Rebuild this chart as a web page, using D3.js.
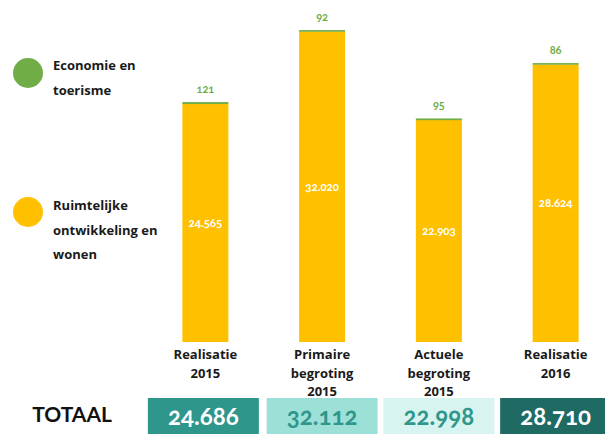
<!DOCTYPE html>
<html><head><meta charset="utf-8">
<script src="https://cdn.jsdelivr.net/npm/d3@7"></script>
<style>
html,body{margin:0;padding:0;background:#fff;}
svg{display:block;font-family:Lato,"Open Sans",sans-serif;}
</style></head>
<body>
<svg id="c" width="605" height="434"></svg>
<script>
const categories = [["Realisatie","2015"],["Primaire","begroting","2015"],["Actuele","begroting","2015"],["Realisatie","2016"]];
const ruimtelijk = [24565, 32020, 22903, 28624];
const economie = [121, 92, 95, 86];
const totals = ["24.686","32.112","22.998","28.710"];
const ruimtelijkLabels = ["24.565","32.020","22.903","28.624"];
const economieLabels = ["121","92","95","86"];
const legendItems = [["Economie en","toerisme"],["Ruimtelijke","ontwikkeling en","wonen"]];

const green = "#70ad47", yellow = "#ffc000";
const boxFill = ["#2e968a","#9de0d8","#d7f4f0","#1f6b63"];
const boxText = ["#ffffff","#2e968a","#2e968a","#ffffff"];
const labelFont = "'Open Sans',Lato,sans-serif";

const svg = d3.select("#c");
const x = d3.scaleBand().domain(d3.range(4)).range([147, 614]).paddingInner(0.6).paddingOuter(0.3);
const y = d3.scaleLinear().domain([0, 35000]).range([342, 2.7]);
const bw = 46;
const cx = i => x(i) + x.bandwidth()/2;

// bars
const g = svg.append("g");
g.selectAll("rect.y").data(ruimtelijk).join("rect")
  .attr("x", (d,i)=>cx(i)-bw/2).attr("width", bw)
  .attr("y", d=>y(d)).attr("height", d=>y(0)-y(d)).attr("fill", yellow);
g.selectAll("rect.g").data(economie).join("rect")
  .attr("x", (d,i)=>cx(i)-bw/2).attr("width", bw)
  .attr("y", (d,i)=>y(ruimtelijk[i]+d)-0.6).attr("height", (d,i)=>y(ruimtelijk[i])-y(ruimtelijk[i]+d)+0.8)
  .attr("fill", green);

// labels inside bars
g.selectAll("text.in").data(ruimtelijk).join("text")
  .attr("x", (d,i)=>cx(i)).attr("y", d=>(y(d)+y(0))/2+4)
  .attr("text-anchor","middle").attr("fill","#fff").attr("font-size",11.5).attr("font-weight","bold")
  .style("font-variant-numeric","oldstyle-nums")
  .text((d,i)=>ruimtelijkLabels[i]);
g.selectAll("text.top").data(economie).join("text")
  .attr("x", (d,i)=>cx(i)).attr("y", (d,i)=>y(ruimtelijk[i]+d)-10)
  .attr("text-anchor","middle").attr("fill",green).attr("font-size",11).attr("font-weight","bold")
  .style("font-variant-numeric","oldstyle-nums")
  .text((d,i)=>economieLabels[i]);

// category labels
categories.forEach((lines,i)=>{
  const t = svg.append("text").attr("text-anchor","middle").attr("font-size",13).attr("font-weight","bold").attr("fill","#1a1a1a")
    .style("font-family",labelFont);
  lines.forEach((l,j)=>t.append("tspan").attr("x",cx(i)).attr("y",359+j*18.5).text(l));
});

// totals
const boxW = 111;
totals.forEach((t,i)=>{
  svg.append("rect").attr("x",cx(i)-boxW/2+(i===0?-2:0)).attr("y",398).attr("width",boxW).attr("height",40).attr("fill",boxFill[i]);
  svg.append("text").attr("x",cx(i)+(i===0?-2:0)).attr("y",425).attr("text-anchor","middle")
    .attr("font-size",24).attr("font-weight","bold").attr("fill",boxText[i])
    .style("font-variant-numeric","oldstyle-nums").text(t);
});
svg.append("text").attr("x",72).attr("y",422).attr("text-anchor","middle").attr("font-size",21).attr("font-weight","bold").attr("fill","#111").text("TOTAAL");

// legend
const legColors = [green, yellow];
const legY = [73, 212];
legendItems.forEach((lines,i)=>{
  svg.append("circle").attr("cx",28).attr("cy",legY[i]).attr("r",15).attr("fill",legColors[i]);
  const t = svg.append("text").attr("font-size",13).attr("font-weight","bold").attr("fill","#1a1a1a").style("font-family",labelFont);
  const y0 = i===0 ? 70 : 210;
  lines.forEach((l,j)=>t.append("tspan").attr("x",53).attr("y",y0+j*24.7).text(l));
});
</script>
</body></html>
